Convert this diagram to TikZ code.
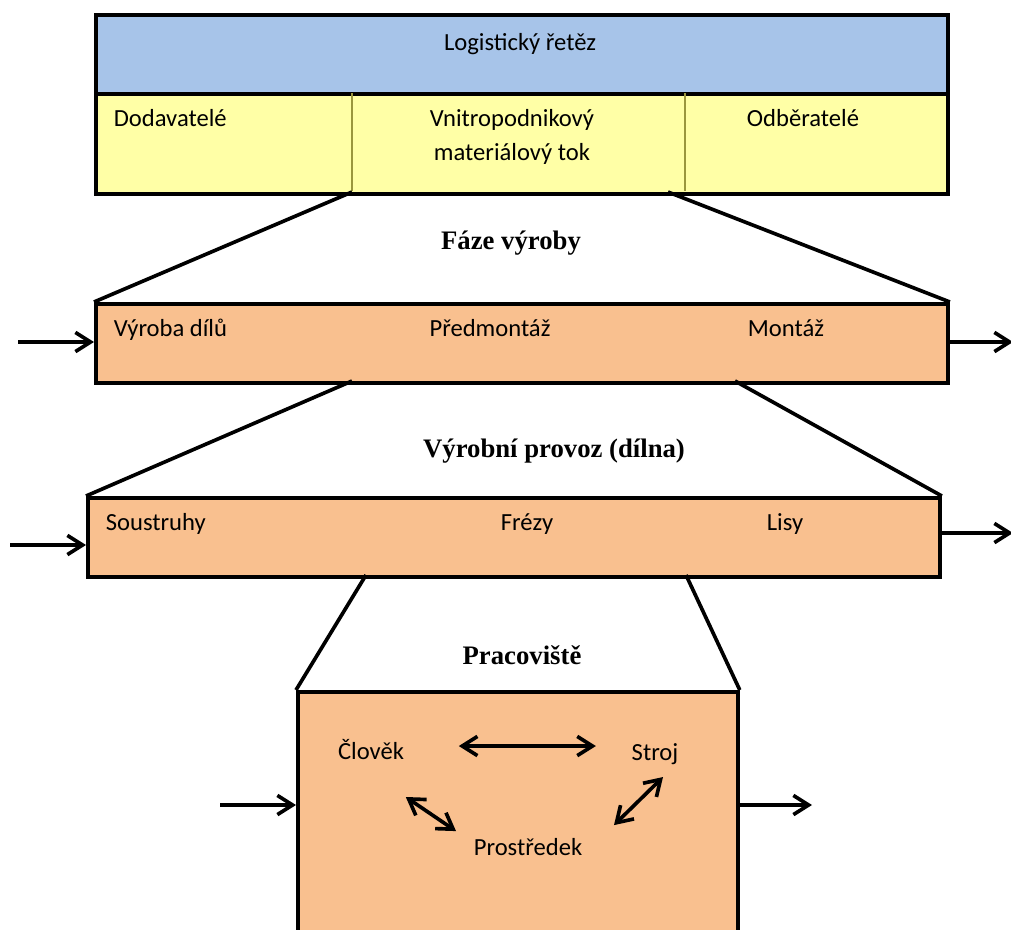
\documentclass[tikz,border=0pt]{standalone}
\usepackage{fontspec}
\setmainfont{Carlito}
\newfontfamily\headfont{Liberation Serif}
\usetikzlibrary{arrows.meta}

\definecolor{chainblue}{HTML}{A7C4E9}
\definecolor{chainyellow}{HTML}{FFFFA6}
\definecolor{stageorange}{HTML}{F9C08F}
\definecolor{divline}{HTML}{9A963E}

\begin{document}
\begin{tikzpicture}[x=0.025cm, y=-0.025cm, font=\fontsize{17.5}{21}\selectfont,
    >={Straight Barb[length=3.8mm, width=4.8mm]}, line width=2.6pt,
    box/.style={draw, line width=2.6pt, inner sep=0pt, anchor=north west},
    lbl/.style={inner sep=0pt, anchor=base},
    head/.style={inner sep=0pt, anchor=base, font=\headfont\bfseries\fontsize{19}{23}\selectfont}]
  \useasboundingbox (0,0) rectangle (1011,929);

  % logistic chain
  \node[box, fill=chainblue, minimum width=21.3cm, minimum height=1.975cm] (chain) at (94,13) {};
  \node[box, fill=chainyellow, minimum width=21.3cm, minimum height=2.5cm] (flow) at (94,92) {};
  \draw[divline, line width=1pt] (352,93) -- (352,191) (685,93) -- (685,191);
  \node[lbl] (chaintxt) at (520,50) {Logistický řetěz};
  \node[lbl, anchor=base west] (supp) at (112,126) {Dodavatelé};
  \node[lbl, align=center] (inner) at (512,160) {Vnitropodnikový\\[3pt]materiálový tok};
  \node[lbl] (cust) at (803,126) {Odběratelé};

  % production phases
  \node[box, fill=stageorange, minimum width=21.3cm, minimum height=1.975cm] (phase) at (94,302) {};
  \node[head] (phasetxt) at (511,249) {Fáze výroby};
  \node[lbl, anchor=base west] (parts) at (112,336) {Výroba dílů};
  \node[lbl] (premont) at (490,336) {Předmontáž};
  \node[lbl] (mont) at (786,336) {Montáž};

  % workshop
  \node[box, fill=stageorange, minimum width=21.3cm, minimum height=1.975cm] (shop) at (86,496) {};
  \node[head] (shoptxt) at (554,457) {Výrobní provoz (dílna)};
  \node[lbl, anchor=base west] (lathe) at (104,530) {Soustruhy};
  \node[lbl] (mill) at (527,530) {Frézy};
  \node[lbl] (press) at (785,530) {Lisy};

  % workplace
  \node[box, fill=stageorange, minimum width=11cm, minimum height=6.6cm] (place) at (296,690) {};
  \node[head] (placetxt) at (522,664) {Pracoviště};
  \node[lbl] (clovek) at (371,759) {Člověk};
  \node[lbl] (stroj) at (655,760) {Stroj};
  \node[lbl] (prostr) at (528,855) {Prostředek};

  % zoom lines
  \coordinate (c1) at (352,192);
  \coordinate (c2) at (668,192);
  \coordinate (p1) at (352,381);
  \coordinate (p2) at (735,381);
  \coordinate (s1) at (366,575);
  \coordinate (s2) at (686,575);
  \draw (c1) -- (phase.north west);
  \draw (c2) -- (phase.north east);
  \draw (p1) -- (shop.north west);
  \draw (p2) -- (shop.north east);
  \draw (s1) -- (place.north west);
  \draw (s2) -- (place.north east);

  % material flow
  \coordinate (in2) at (18,342);
  \coordinate (out2) at (1013,342);
  \coordinate (in3) at (10,545);
  \coordinate (out3) at (1013,533);
  \coordinate (in4) at (220,805);
  \coordinate (out4) at (812,805);
  \draw[->] (in2) -- (in2 -| phase.west);
  \draw[->] (out2 -| phase.east) -- (out2);
  \draw[->] (in3) -- (in3 -| shop.west);
  \draw[->] (out3 -| shop.east) -- (out3);
  \draw[->] (in4) -- (in4 -| place.west);
  \draw[->] (out4 -| place.east) -- (out4);

  % links
  \draw[<->] ([shift={(53,-3)}]clovek.east) -- ([shift={(-34,-3)}]clovek.east -| stroj.west);
  \draw[<->] ([shift={(0,36)}]clovek.south east) -- ([shift={(-16,-5)}]prostr.north west);
  \draw[<->] ([shift={(8,11)}]stroj.south) -- ([shift={(30,-11)}]prostr.north east);
\end{tikzpicture}
\end{document}
